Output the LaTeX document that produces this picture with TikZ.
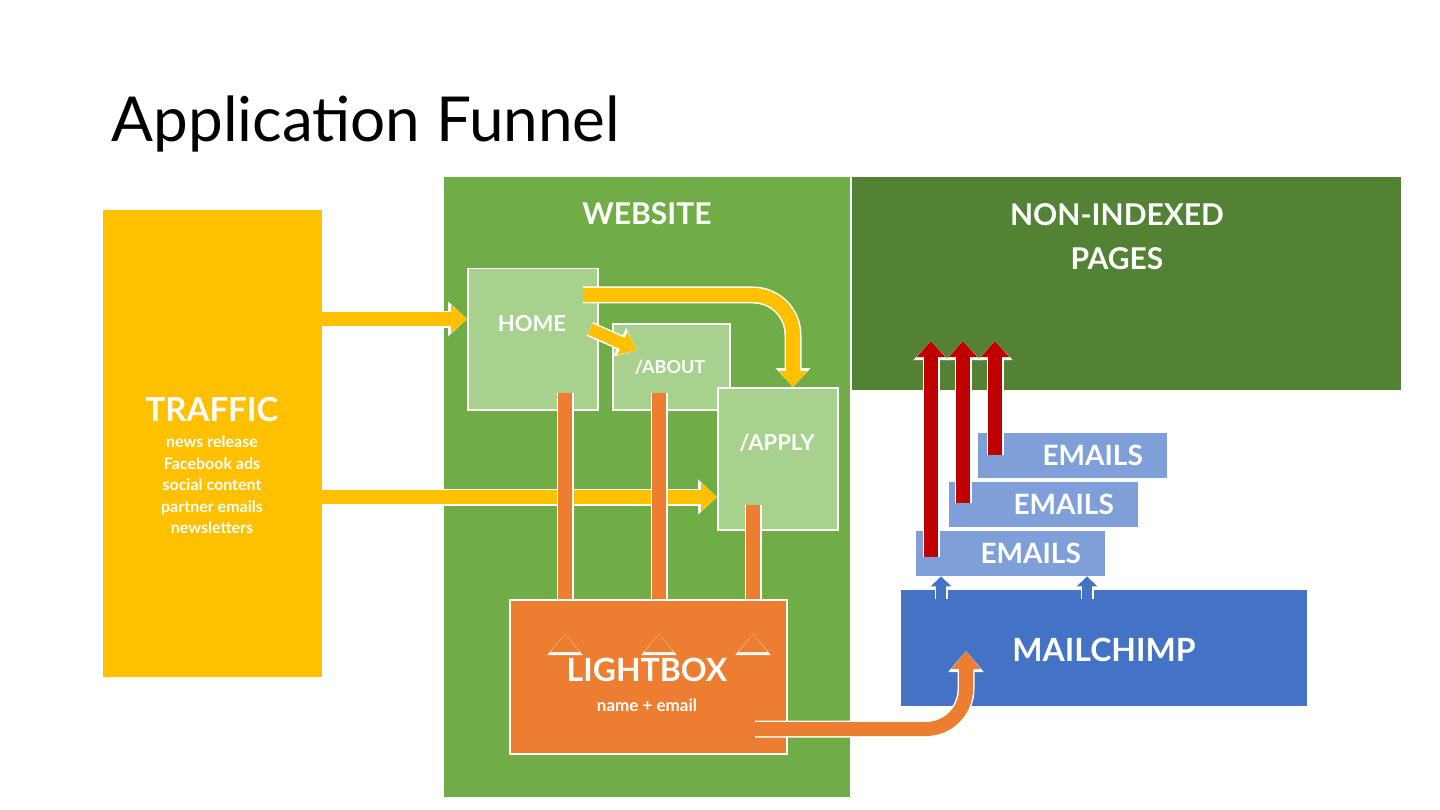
\documentclass[tikz,border=0pt]{standalone}
\usepackage{fontspec}
\setmainfont{Lato}
\usetikzlibrary{positioning}
\usetikzlibrary{calc,arrows.meta}
\definecolor{traffic}{HTML}{FFC000}
\definecolor{webgreen}{HTML}{70AD47}
\definecolor{darkgreen}{HTML}{548235}
\definecolor{pagegreen}{HTML}{A9D18E}
\definecolor{lightbox}{HTML}{ED7D31}
\definecolor{mailblue}{HTML}{4472C4}
\definecolor{emailblue}{HTML}{7F9FD8}
\definecolor{redarrow}{HTML}{C00000}
% fat arrow with a white outline: colour, shaft width, head length, path
\newcommand\fatarrow[4]{%
  \draw[white,rounded corners=40pt,line width=#2+3pt,-{Triangle[length=#3+3pt,width=2*#2+6pt]}] #4;
  \draw[#1,rounded corners=40pt,line width=#2,-{Triangle[length=#3,width=2*#2]}] #4;}
\begin{document}
\begin{tikzpicture}[x=1pt,y=-1pt,
    box/.style={inner sep=0pt,anchor=north west},
    page/.style={box,fill=pagegreen,draw=white,line width=1.5pt},
    email/.style={box,fill=emailblue,minimum width=189pt,minimum height=45pt,
      text=white,font=\fontsize{28}{30}\selectfont\bfseries}]
    \useasboundingbox (0,0) rectangle (1440,810);

    % Title
    \node[anchor=base west,font=\fontsize{62}{64}\selectfont] at (108,142) {Application Funnel};

    % Blocks
    \node[box,fill=traffic,minimum width=219pt,minimum height=467pt] (traffic) at (103,210) {};
    \node[box,fill=webgreen,minimum width=406pt,minimum height=620pt] (web) at (444,177) {};
    \node[box,fill=darkgreen,minimum width=549pt,minimum height=213pt] (hidden) at (852,177) {};
    \node[page,minimum width=130pt,minimum height=141pt] (home) at (467,268) {};
    \node[page,minimum width=117pt,minimum height=86pt] (about) at (612,323) {};
    \node[page,minimum width=120pt,minimum height=142pt] (apply) at (717,387) {};
    \node[box,fill=lightbox,draw=white,line width=1.5pt,minimum width=277pt,minimum height=154pt] (lightbox) at (509,599) {};
    \node[box,fill=mailblue,minimum width=406pt,minimum height=116pt] (mailchimp) at (901,590) {};
    \node[email] (mail3) at (978,433) {\hspace*{40pt}EMAILS};
    \node[email] (mail2) at (949,482) {\hspace*{40pt}EMAILS};
    \node[email] (mail1) at (916,531) {\hspace*{40pt}EMAILS};

    % Labels
    \begin{scope}[text=white,font=\bfseries]
      \node[font=\fontsize{30}{34}\selectfont\bfseries] at (647,214) {WEBSITE};
      \node[align=center,font=\fontsize{30}{44}\selectfont\bfseries] at (1117,237) {NON-INDEXED\\PAGES};
      \node[font=\fontsize{33}{36}\selectfont\bfseries] at (212,410) {TRAFFIC};
      \node[align=center,font=\fontsize{16}{21.6}\selectfont\bfseries,anchor=north] at (212,432)
        {news release\\Facebook ads\\social content\\partner emails\\newsletters};
      \node[font=\fontsize{22}{24}\selectfont\bfseries] at (532,324) {HOME};
      \node[font=\fontsize{18}{20}\selectfont\bfseries] at (670,367) {/ABOUT};
      \node[font=\fontsize{22}{24}\selectfont\bfseries] at (777,443) {/APPLY};
      \node[font=\fontsize{32}{34}\selectfont\bfseries] at (647,670) {LIGHTBOX};
      \node[font=\fontsize{17}{19}\selectfont\bfseries] at (647,705) {name + email};
      \node[font=\fontsize{32}{34}\selectfont\bfseries] at (1104,650) {MAILCHIMP};
    \end{scope}

    % Arrows
    \coordinate (t1) at (traffic.east |- 0,319);
    \coordinate (t2) at (traffic.east |- 0,497);
    \fatarrow{traffic}{14pt}{16pt}{(t1) -- (home.west |- t1)}
    \fatarrow{traffic}{14pt}{16pt}{(t2) -- (apply.west |- t2)}
    \fatarrow{traffic}{12pt}{16pt}{(590,329) -- (637,350)}
    \fatarrow{traffic}{14pt}{16pt}{(583,295) -- (793,295) -- (apply.north -| 793,0)}
    \fatarrow{lightbox}{14pt}{18pt}{(565,393) -- (lightbox.north -| 565,0) ++(0,35)}
    \fatarrow{lightbox}{14pt}{18pt}{(659,393) -- (lightbox.north -| 659,0) ++(0,35)}
    \fatarrow{lightbox}{14pt}{18pt}{(753,505) -- (lightbox.north -| 753,0) ++(0,35)}
    \fatarrow{lightbox}{14pt}{18pt}{(755,729) -- (966,729) -- (966,651)}
    \fatarrow{redarrow}{14pt}{16pt}{(931,557) -- (931,341)}
    \fatarrow{redarrow}{14pt}{16pt}{(963,503) -- (963,341)}
    \fatarrow{redarrow}{14pt}{16pt}{(995,455) -- (995,341)}
    \fatarrow{mailblue}{10pt}{10pt}{(941,599) -- (mail1.south -| 941,0)}
    \fatarrow{mailblue}{10pt}{10pt}{(1087,599) -- (mail1.south -| 1087,0)}
\end{tikzpicture}
\end{document}
